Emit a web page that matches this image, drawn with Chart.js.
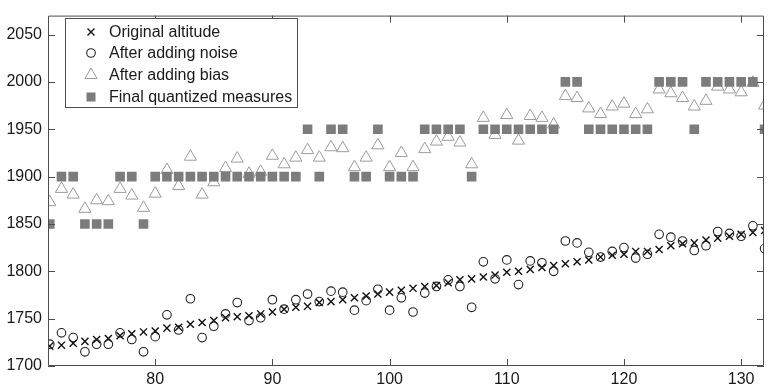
<!DOCTYPE html>
<html>
<head>
<meta charset="utf-8">
<script src="https://cdn.jsdelivr.net/npm/chart.js@4.4.1/dist/chart.umd.min.js"></script>
<style>
  html, body { margin: 0; padding: 0; background: #ffffff; }
  #wrap { width: 772px; height: 388px; }
</style>
</head>
<body>
<div id="wrap"><canvas id="altChart" width="772" height="388"></canvas></div>
<script>
'use strict';

// ---- data ----
const sampleIdx = [
  71, 72, 73, 74, 75, 76, 77, 78, 79, 80,
  81, 82, 83, 84, 85, 86, 87, 88, 89, 90,
  91, 92, 93, 94, 95, 96, 97, 98, 99, 100,
  101, 102, 103, 104, 105, 106, 107, 108, 109, 110,
  111, 112, 113, 114, 115, 116, 117, 118, 119, 120,
  121, 122, 123, 124, 125, 126, 127, 128, 129, 130,
  131, 132
];

const originalAlt = [
  1721, 1722, 1724, 1726, 1728, 1729, 1732, 1734, 1736, 1737,
  1740, 1741, 1744, 1746, 1748, 1751, 1752, 1753, 1755, 1757,
  1760, 1762, 1763, 1767, 1768, 1770, 1772, 1774, 1776, 1778,
  1780, 1782, 1784, 1785, 1788, 1791, 1792, 1794, 1796, 1799,
  1800, 1802, 1804, 1806, 1808, 1810, 1812, 1815, 1817, 1818,
  1821, 1821, 1823, 1827, 1829, 1830, 1833, 1835, 1837, 1839,
  1841, 1843
];

const noisyAlt = [
  1723, 1735, 1730, 1715, 1723, 1723, 1735, 1728, 1715, 1731,
  1754, 1738, 1771, 1730, 1742, 1755, 1767, 1748, 1751, 1770,
  1760, 1770, 1776, 1768, 1779, 1778, 1759, 1769, 1781, 1759,
  1772, 1757, 1777, 1784, 1791, 1784, 1762, 1810, 1792, 1812,
  1786, 1811, 1809, 1800, 1832, 1830, 1820, 1815, 1821, 1825,
  1814, 1818, 1839, 1836, 1832, 1822, 1827, 1842, 1840, 1837,
  1848, 1824
];

const biasedAlt = [
  1873, 1887, 1881, 1866, 1875, 1874, 1887, 1880, 1867, 1882,
  1907, 1890, 1921, 1881, 1894, 1909, 1919, 1903, 1905, 1922,
  1913, 1920, 1928, 1920, 1931, 1930, 1910, 1920, 1933, 1910,
  1925, 1910, 1929, 1937, 1942, 1936, 1913, 1962, 1944, 1965,
  1938, 1964, 1962, 1955, 1985, 1983, 1972, 1966, 1974, 1977,
  1966, 1971, 1992, 1988, 1983, 1974, 1980, 1995, 1992, 1989,
  1999, 1975
];

const quantizedAlt = [
  1850, 1900, 1900, 1850, 1850, 1850, 1900, 1900, 1850, 1900,
  1900, 1900, 1900, 1900, 1900, 1900, 1900, 1900, 1900, 1900,
  1900, 1900, 1950, 1900, 1950, 1950, 1900, 1900, 1950, 1900,
  1900, 1900, 1950, 1950, 1950, 1950, 1900, 1950, 1950, 1950,
  1950, 1950, 1950, 1950, 2000, 2000, 1950, 1950, 1950, 1950,
  1950, 1950, 2000, 2000, 2000, 1950, 2000, 2000, 2000, 2000,
  2000, 1950
];

const seriesLabels = [
  'Original altitude',
  'After adding noise',
  'After adding bias',
  'Final quantized measures'
];

const xTicks = [80, 90, 100, 110, 120, 130];
const yTicks = [1700, 1750, 1800, 1850, 1900, 1950, 2000, 2050];

// ---- style ----
const FONT = '"Liberation Sans", Arial, sans-serif';
const colorAxis  = '#4d4d4d';
const colorText  = '#1a1a1a';
const colorX     = '#111111';
const colorCirc  = '#222222';
const colorTri   = '#9c9c9c';
const colorSq    = '#7c7c7c';

function toPoints(ys) {
  return sampleIdx.map(function (x, i) { return { x: x, y: ys[i] }; });
}

// plain numbers, no thousands separator
function plainLabel(v) { return String(v); }

// MATLAB-like box with ticks pointing inward on all four sides
const framePlugin = {
  id: 'frame',
  afterDatasetsDraw(chart) {
    const { ctx, chartArea: a, scales } = chart;
    const tick = 7;
    ctx.save();
    ctx.strokeStyle = colorAxis;
    ctx.lineWidth = 1;
    ctx.beginPath();
    ctx.rect(a.left + 0.5, a.top + 0.5, a.right - a.left - 1, a.bottom - a.top - 1);
    xTicks.forEach(function (v) {
      const px = Math.round(scales.x.getPixelForValue(v)) + 0.5;
      ctx.moveTo(px, a.bottom); ctx.lineTo(px, a.bottom - tick);
      ctx.moveTo(px, a.top);    ctx.lineTo(px, a.top + tick);
    });
    yTicks.forEach(function (v) {
      const py = Math.round(scales.y.getPixelForValue(v)) + 0.5;
      ctx.moveTo(a.left, py);  ctx.lineTo(a.left + tick, py);
      ctx.moveTo(a.right, py); ctx.lineTo(a.right - tick, py);
    });
    ctx.stroke();
    ctx.restore();
  }
};

// legend box drawn inside the plot, top-left
const legendPlugin = {
  id: 'boxLegend',
  afterDraw(chart) {
    const ctx = chart.ctx;
    const bx = 65.5, by = 18.5, bw = 232, bh = 89;
    const rows = [32, 53, 75, 97];
    const mx = 91, tx = 109;
    ctx.save();
    ctx.fillStyle = '#ffffff';
    ctx.fillRect(bx, by, bw, bh);
    ctx.strokeStyle = colorAxis;
    ctx.lineWidth = 1;
    ctx.strokeRect(bx, by, bw, bh);

    // x marker
    ctx.strokeStyle = colorX; ctx.lineWidth = 1.4;
    ctx.beginPath();
    ctx.moveTo(mx - 3.5, rows[0] - 3.5); ctx.lineTo(mx + 3.5, rows[0] + 3.5);
    ctx.moveTo(mx + 3.5, rows[0] - 3.5); ctx.lineTo(mx - 3.5, rows[0] + 3.5);
    ctx.stroke();
    // circle
    ctx.strokeStyle = colorCirc; ctx.lineWidth = 1.1;
    ctx.beginPath(); ctx.arc(mx, rows[1], 4.3, 0, Math.PI * 2); ctx.stroke();
    // triangle
    ctx.strokeStyle = colorTri; ctx.lineWidth = 1;
    ctx.beginPath();
    ctx.moveTo(mx, rows[2] - 7); ctx.lineTo(mx + 6, rows[2] + 3.5); ctx.lineTo(mx - 6, rows[2] + 3.5);
    ctx.closePath(); ctx.stroke();
    // square
    ctx.fillStyle = colorSq;
    ctx.fillRect(mx - 4.5, rows[3] - 4.5, 9, 9);

    ctx.fillStyle = colorText;
    ctx.font = '16px ' + FONT;
    ctx.textBaseline = 'middle';
    ctx.textAlign = 'left';
    seriesLabels.forEach(function (t, i) { ctx.fillText(t, tx, rows[i] + 1); });
    ctx.restore();
  }
};

const canvas = document.getElementById('altChart');

new Chart(canvas, {
  type: 'scatter',
  data: {
    datasets: [
      {
        label: seriesLabels[0], data: toPoints(originalAlt), order: 3,
        pointStyle: 'crossRot', pointRadius: 5, pointBorderWidth: 1.4,
        borderColor: colorX, backgroundColor: 'rgba(0,0,0,0)'
      },
      {
        label: seriesLabels[1], data: toPoints(noisyAlt), order: 2,
        pointStyle: 'circle', pointRadius: 4.3, pointBorderWidth: 1.1,
        borderColor: colorCirc, backgroundColor: 'rgba(0,0,0,0)'
      },
      {
        label: seriesLabels[2], data: toPoints(biasedAlt), order: 1,
        pointStyle: 'triangle', pointRadius: 7, pointBorderWidth: 1,
        borderColor: colorTri, backgroundColor: 'rgba(0,0,0,0)'
      },
      {
        label: seriesLabels[3], data: toPoints(quantizedAlt), order: 0,
        pointStyle: 'rect', pointRadius: 6.8, pointBorderWidth: 0,
        borderColor: colorSq, backgroundColor: colorSq
      }
    ]
  },
  options: {
    responsive: false,
    animation: false,
    events: [],
    layout: { padding: { top: 4, right: 1, left: 0, bottom: 0 } },
    plugins: {
      legend: { display: false },
      tooltip: { enabled: false }
    },
    scales: {
      x: {
        type: 'linear',
        min: 70.85,
        max: 131.95,
        grid: { display: false, drawTicks: false },
        border: { display: false },
        afterBuildTicks: function (s) { s.ticks = xTicks.map(function (v) { return { value: v }; }); },
        ticks: { color: colorText, font: { family: FONT, size: 16 }, padding: 4, maxRotation: 0, autoSkip: false, callback: plainLabel },
        afterFit: function (s) { s.height = 22; }
      },
      y: {
        type: 'linear',
        min: 1700,
        max: 2070,
        grid: { display: false, drawTicks: false },
        border: { display: false },
        afterBuildTicks: function (s) { s.ticks = yTicks.map(function (v) { return { value: v }; }); },
        ticks: { color: colorText, font: { family: FONT, size: 16 }, padding: 6, autoSkip: false, callback: plainLabel },
        afterFit: function (s) { s.width = 48; }
      }
    }
  },
  plugins: [framePlugin, legendPlugin]
});
</script>
</body>
</html>
